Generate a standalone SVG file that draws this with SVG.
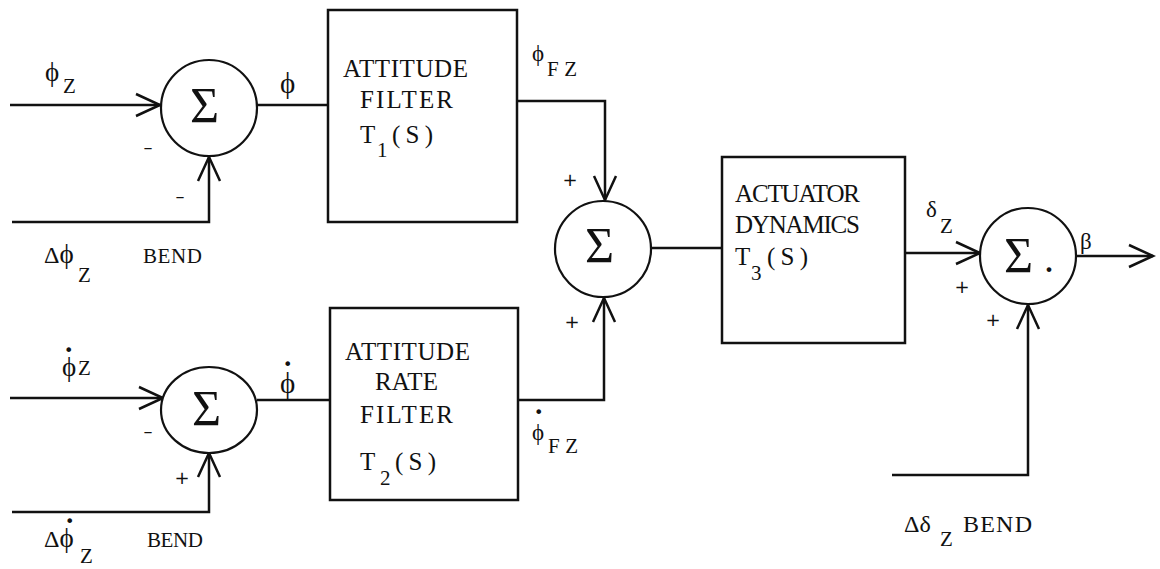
<svg xmlns="http://www.w3.org/2000/svg" width="1160" height="569" viewBox="0 0 1160 569">
<style>
.ln{fill:none;stroke:#111;stroke-width:2.5;stroke-linejoin:miter}
.arr{marker-end:url(#ah)}
.bx{fill:#fff;stroke:#111;stroke-width:2.5}
.cr{fill:#fff;stroke:#111;stroke-width:2.2}
.tw{font-family:"Liberation Serif","DejaVu Serif",serif;font-size:25px;fill:#111}
.sub{font-family:"Liberation Serif","DejaVu Serif",serif;font-size:21px;fill:#111}
.gk{font-family:"Liberation Serif","DejaVu Serif",serif;font-size:27px;fill:#111}
.lb{font-family:"Liberation Serif","DejaVu Serif",serif;font-size:21px;fill:#111}
.sg{font-family:"Liberation Serif","DejaVu Serif",serif;font-size:50px;fill:#111}
.pm{font-family:"DejaVu Sans",sans-serif;font-size:18px;fill:#111;text-anchor:middle}
.dt{font-family:"DejaVu Sans",sans-serif;font-size:16px}
</style>
<defs>
<marker id="ah" markerUnits="userSpaceOnUse" markerWidth="30" markerHeight="30" refX="0" refY="0" viewBox="-27 -14 30 28" orient="auto" overflow="visible">
<path d="M-24,-11 L0,0 L-24,11" fill="none" stroke="#111" stroke-width="2.5"/>
</marker>
</defs>
<rect width="1160" height="569" fill="#fff"/>

<g id="connectors">
<path class="ln arr" d="M10,105 H160"/>
<path class="ln arr" d="M12,222 H209 V157"/>
<path class="ln" d="M257,105 H328"/>
<path class="ln arr" d="M517,101 H605 V200"/>
<path class="ln arr" d="M10,398 H163"/>
<path class="ln arr" d="M12,512 H209 V453"/>
<path class="ln" d="M257,400 H330"/>
<path class="ln arr" d="M518,400 H604 V298"/>
<path class="ln" d="M651,248 H722"/>
<path class="ln arr" d="M905,253 H980"/>
<path class="ln arr" d="M1076,256 H1153"/>
<path class="ln arr" d="M892,475 H1028 V305"/>
</g>

<g id="sum1">
<circle class="cr" cx="209" cy="108" r="48"/>
<text class="sg" x="190" y="122">Σ</text>
<text class="pm" x="148" y="153">–</text>
<text class="pm" x="180" y="202">–</text>
</g>

<g id="sum2">
<ellipse class="cr" cx="209" cy="410" rx="48" ry="43"/>
<text class="sg" x="192" y="425">Σ</text>
<text class="pm" x="148" y="437">–</text>
<text class="pm" x="182" y="484">+</text>
</g>

<g id="sum3">
<circle class="cr" cx="603" cy="249" r="48"/>
<text class="sg" x="585" y="262">Σ</text>
<text class="pm" x="570" y="186">+</text>
<text class="pm" x="572" y="328">+</text>
</g>

<g id="sum4">
<circle class="cr" cx="1028" cy="256" r="48"/>
<text class="sg" x="1004" y="272">Σ</text>
<text class="sg" x="1044" y="272" style="font-size:40px">.</text>
<text class="pm" x="962" y="293">+</text>
<text class="pm" x="993" y="326">+</text>
</g>

<g id="box1">
<rect class="bx" x="328" y="10" width="189" height="212"/>
<text class="tw" x="343" y="77" textLength="125">ATTITUDE</text>
<text class="tw" x="360" y="108" textLength="93">FILTER</text>
<text class="tw" x="360" y="143">T</text>
<text class="sub" x="377" y="157">1</text>
<text class="tw" x="392" y="143" textLength="41">(S)</text>
</g>

<g id="box2">
<rect class="bx" x="330" y="308" width="188" height="192"/>
<text class="tw" x="345" y="360" textLength="125">ATTITUDE</text>
<text class="tw" x="375" y="390" textLength="63">RATE</text>
<text class="tw" x="360" y="423" textLength="93">FILTER</text>
<text class="tw" x="360" y="470">T</text>
<text class="sub" x="380" y="485">2</text>
<text class="tw" x="395" y="470" textLength="41">(S)</text>
</g>

<g id="box3">
<rect class="bx" x="722" y="157" width="183" height="186"/>
<text class="tw" x="735" y="202" textLength="125">ACTUATOR</text>
<text class="tw" x="735" y="233" textLength="125">DYNAMICS</text>
<text class="tw" x="735" y="265">T</text>
<text class="sub" x="751" y="280">3</text>
<text class="tw" x="767" y="265" textLength="41">(S)</text>
</g>

<g id="labels">
<text class="gk" x="45" y="81">ϕ</text>
<text class="sub" x="63" y="93">Z</text>
<text class="gk" x="280" y="93" style="font-size:29px">ϕ</text>
<text class="gk" x="44" y="263" style="font-size:24px">Δ<tspan style="font-size:27px">ϕ</tspan></text>
<text class="sub" x="78" y="282">Z</text>
<text class="lb" x="143" y="263" textLength="59">BEND</text>
<text class="gk" x="532" y="61" style="font-size:23px">ϕ</text>
<text class="sub" x="547" y="76" textLength="30">FZ</text>

<text class="gk" x="62" y="376">ϕ<tspan class="dt" x="64" y="356">•</tspan></text>
<text class="sub" x="78" y="375">Z</text>
<text class="gk" x="280" y="393" style="font-size:29px">ϕ<tspan class="dt" x="283" y="370">•</tspan></text>
<text class="gk" x="44" y="547" style="font-size:24px">Δ<tspan style="font-size:27px">ϕ</tspan><tspan class="dt" x="65" y="527">•</tspan></text>
<text class="sub" x="80" y="563">Z</text>
<text class="lb" x="147" y="547" textLength="56">BEND</text>
<text class="gk" x="532" y="440" style="font-size:23px">ϕ<tspan class="dt" x="534" y="418">•</tspan></text>
<text class="sub" x="548" y="453" textLength="30">FZ</text>

<text class="gk" x="926" y="217" style="font-size:23px">δ</text>
<text class="sub" x="940" y="233">Z</text>
<text class="gk" x="1080" y="249" style="font-size:23px">β</text>
<text class="gk" x="904" y="532" style="font-size:24px">Δδ</text>
<text class="sub" x="940" y="546">Z</text>
<text class="lb" x="963" y="532" textLength="69" style="font-size:24px">BEND</text>
</g>
</svg>
